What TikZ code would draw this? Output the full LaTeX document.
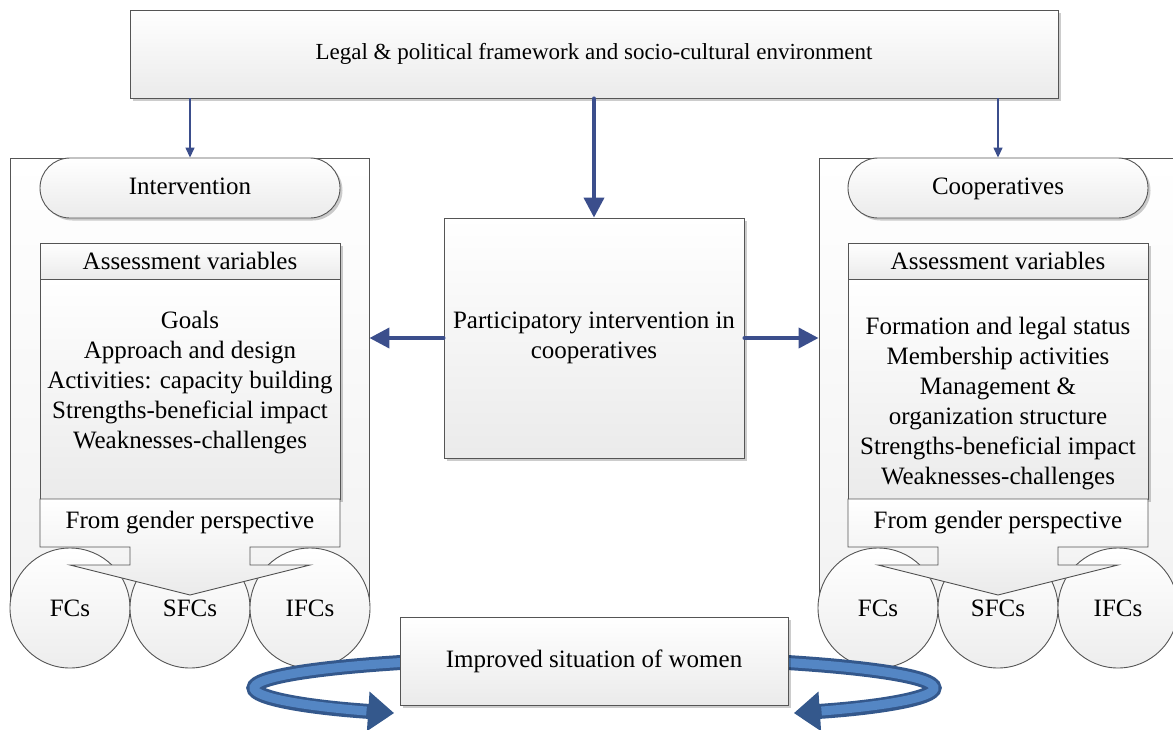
\documentclass[tikz,border=0pt]{standalone}
\usepackage{fontspec}
\setmainfont{Liberation Serif}
\usetikzlibrary{arrows.meta,shadows,calc}
\definecolor{arrowblue}{RGB}{59,78,140}
\definecolor{ribbonedge}{RGB}{52,88,140}
\definecolor{ribbonfill}{RGB}{84,134,196}
\definecolor{boxline}{RGB}{85,85,85}
\tikzset{
  base/.style={draw=boxline, line width=0.9pt, top color=white, bottom color=black!8,
    align=center, inner sep=0pt, font=\rmfamily\fontsize{25}{30}\selectfont},
  shadowed/.style={drop shadow={shadow xshift=2.5pt, shadow yshift=-2.5pt, fill=black, opacity=0.2}},
  panel/.style={base, shadowed, rectangle},
  frame/.style={base, rectangle, top color=white, bottom color=black!5},
  pill/.style={base, shadowed, rectangle, rounded corners=30pt, minimum width=300, minimum height=60,
    text height=17pt, text depth=5pt},
  ring/.style={base, circle, minimum size=120, top color=white, bottom color=black!7},
  txt/.style={align=center, inner sep=0pt, font=\rmfamily\fontsize{25}{30}\selectfont},
  thinarrow/.style={draw=arrowblue, line width=1.4pt, -{Triangle[length=10pt,width=9pt]}},
  thickarrow/.style={draw=arrowblue, line width=4pt, line cap=round, -{Triangle[length=20pt,width=20pt]}},
  ribbon/.style={draw=ribbonedge, line width=15pt, -{Triangle[length=26pt,width=38pt]}},
  ribboncore/.style={draw=ribbonfill, line width=9pt},
}
\begin{document}
\begin{tikzpicture}[x=1pt,y=-1pt]
\useasboundingbox (0,0) rectangle (1173,729);
\fill[white] (0,0) rectangle (1173,729);
\clip (0,0) rectangle (1173,729);

% outer frames of the two sides
\node[frame, minimum width=359, minimum height=442] (lcont) at (189.5,379) {};
\node[frame, minimum width=371, minimum height=442] (rcont) at (1004.5,379) {};

% top box
\node[panel, minimum width=928, minimum height=88, font=\rmfamily\fontsize{23}{28}\selectfont] (top) at (594,54)
  {Legal \& political framework and socio-cultural environment};

% central box
\node[panel, minimum width=300, minimum height=240] (mid) at (594,338) {};
\node[txt] (midtext) at (594,338) {Participatory intervention in\\cooperatives};

% headers of the two sides
\node[pill] (lpill) at (190,188) {Intervention};
\node[pill] (rpill) at (998,188) {Cooperatives};

% left assessment block
\node[panel, minimum width=300, minimum height=36] (lhead) at (190,261) {Assessment variables};
\node[panel, minimum width=300, minimum height=220] (lbody) at (190,389) {};
\node[txt] (ltext) at (190,383) {Goals\\Approach and design\\Activities: capacity building\\Strengths-beneficial impact\\Weaknesses-challenges};

% right assessment block
\node[panel, minimum width=300, minimum height=36] (rhead) at (998,261) {Assessment variables};
\node[panel, minimum width=300, minimum height=220] (rbody) at (998,389) {};
\node[txt] (rtext) at (998,404) {Formation and legal status\\Membership activities\\Management \&\\organization structure\\Strengths-beneficial impact\\Weaknesses-challenges};

% cooperative types, left
\node[ring] (lfc) at (70,608) {FCs};
\node[ring] (lsfc) at (190,608) {SFCs};
\node[ring] (lifc) at (310,608) {IFCs};
% cooperative types, right
\node[ring] (rfc) at (878,608) {FCs};
\node[ring] (rsfc) at (998,608) {SFCs};
\node[ring] (rifc) at (1118,608) {IFCs};

% gender-perspective callouts pointing to the circles
\foreach \cx/\nm in {190/l, 998/r}{
  \path[base, draw=boxline]
    (\cx-150,499) -- (\cx+150,499) -- (\cx+150,547) -- (\cx+60,547) -- (\cx+60,565)
    -- (\cx+120,565) -- (\cx,595) -- (\cx-120,565) -- (\cx-60,565) -- (\cx-60,547)
    -- (\cx-150,547) -- cycle;
  \node[txt] (\nm foot) at (\cx,523) {From gender perspective};
}

% connectors
\draw[thinarrow] (top.south -| lpill.north) -- (lpill.north);
\draw[thinarrow] (top.south -| rpill.north) -- (rpill.north);
\draw[thickarrow] (top.south) -- (mid.north);
\draw[thickarrow] (mid.west) -- (mid.west -| lcont.east);
\draw[thickarrow] (mid.east) -- (mid.east -| rcont.west);

% circular ribbon around the outcome box
\coordinate (ec) at (594,688);
\draw[ribbon] ($(ec)+(240:340 and 31)$) arc[start angle=240, end angle=126, x radius=340, y radius=31];
\draw[ribboncore] ($(ec)+(238:340 and 31)$) arc[start angle=238, end angle=132, x radius=340, y radius=31];
\draw[ribbon] ($(ec)+(-60:340 and 31)$) arc[start angle=-60, end angle=54, x radius=340, y radius=31];
\draw[ribboncore] ($(ec)+(-58:340 and 31)$) arc[start angle=-58, end angle=48, x radius=340, y radius=31];

% outcome box
\node[panel, minimum width=388, minimum height=88] (bottom) at (594,661) {Improved situation of women};
\end{tikzpicture}
\end{document}
